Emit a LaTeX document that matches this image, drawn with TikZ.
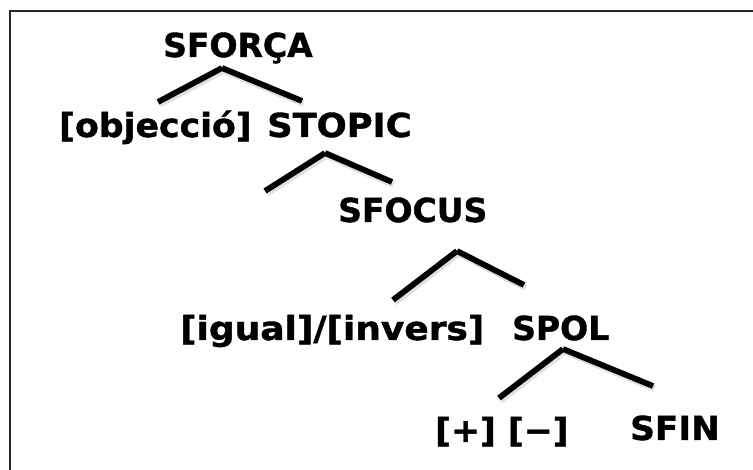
\documentclass[tikz,border=0pt]{standalone}
\usepackage{fontspec}
\setmainfont{DejaVu Sans}[BoldFeatures={FakeBold=1.2}]
\newcommand{\wide}[2]{\scalebox{#1}[1]{#2}}
\begin{document}
\begin{tikzpicture}[x=1pt,y=-1pt,
  label/.style={inner sep=0pt,anchor=base west,font=\fontsize{33}{36}\selectfont\bfseries},
  branch/.style={line width=5.8pt,line cap=butt},
  shade/.style={line width=6.5pt,line cap=butt,draw=black,opacity=0.12}]
  \useasboundingbox (0,0) rectangle (753,470);
  % frame (left and top edges only)
  \draw[line width=2.2pt,black!85] (10,470) -- (10,11) -- (753,11);

  % labels
  \node[label] (sforca) at (163,57) {SFORÇA};
  \node[label] (obj) at (59,137) {\wide{1.05}{[objecció]}};
  \node[label] (stopic) at (267,137) {\wide{1.07}{STOPIC}};
  \node[label] (sfocus) at (338,222) {SFOCUS};
  \node[label] (igual) at (180,340) {\wide{1.09}{[igual]/[invers]}};
  \node[label] (spol) at (512,340) {SPOL};
  \node[label] (pm) at (435,442) {\wide{1.05}{[+] [−]}};
  \node[label] (sfin) at (630,440) {\wide{1.04}{SFIN}};

  % branch points
  \coordinate (a1) at (222,68);  \coordinate (l1) at (158,102); \coordinate (r1) at (302,101);
  \coordinate (a2) at (325,153); \coordinate (l2) at (265,191); \coordinate (r2) at (392,182);
  \coordinate (a3) at (457,251); \coordinate (l3) at (393,300); \coordinate (r3) at (524,285);
  \coordinate (a4) at (563,349); \coordinate (l4) at (499,398); \coordinate (r4) at (653,386);

  % soft shadows under the branches
  \foreach \n in {1,2,3,4}{
    \draw[shade] ([shift={(1.5,2.5)}]l\n) -- ([shift={(1.5,2.5)}]a\n) -- ([shift={(1.5,2.5)}]r\n);
  }
  % branches
  \foreach \n in {1,2,3,4}{
    \draw[branch] (l\n) -- (a\n);
    \draw[branch] (a\n) -- (r\n);
  }
\end{tikzpicture}
\end{document}
